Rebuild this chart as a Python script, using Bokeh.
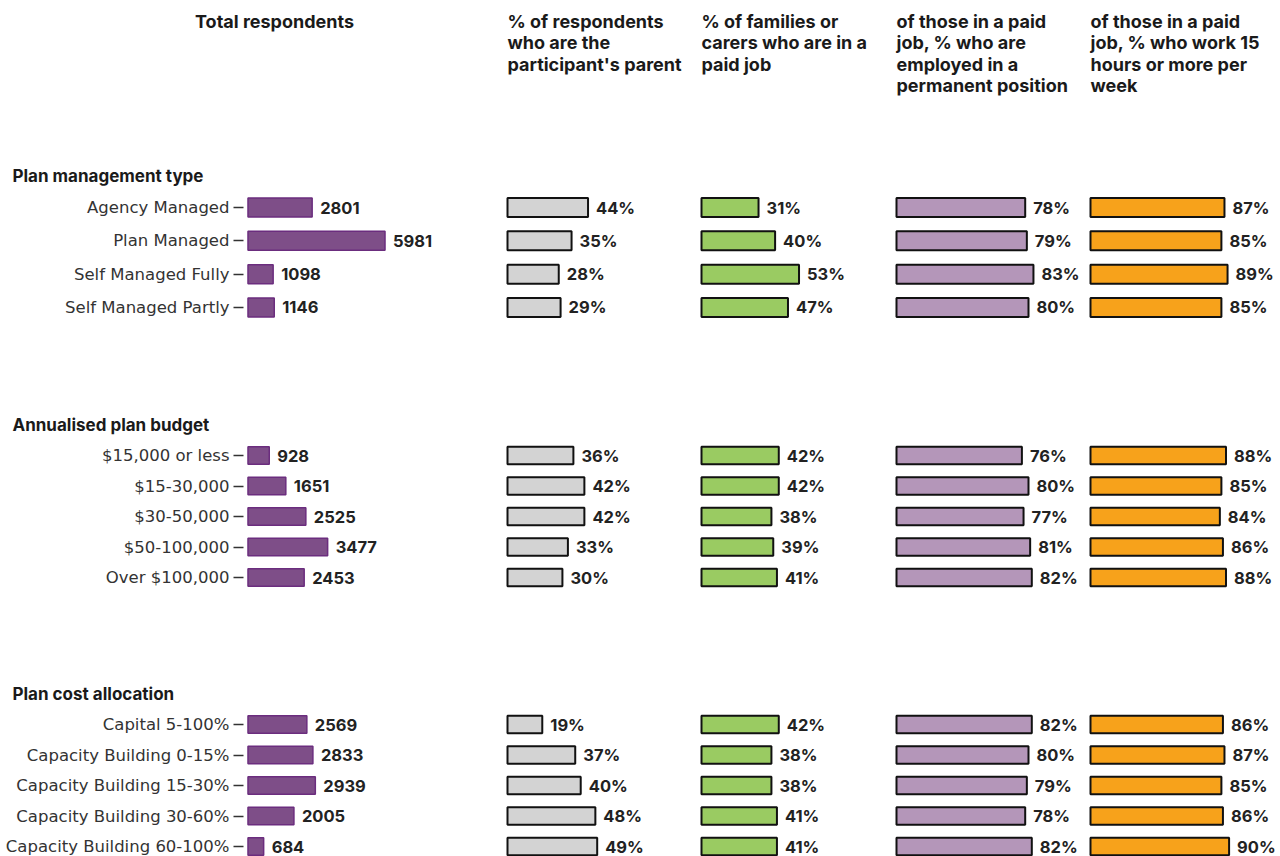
from bokeh.plotting import figure
from bokeh.layouts import column, row
from bokeh.models import Range1d, FixedTicker
from bokeh.core.properties import value
from bokeh.embed import file_html
from bokeh.resources import INLINE

# ---------------- data ----------------
col_headers = [
    "Total respondents",
    "% of respondents\nwho are the\nparticipant's parent",
    "% of families or\ncarers who are in a\npaid job",
    "of those in a paid\njob, % who are\nemployed in a\npermanent position",
    "of those in a paid\njob, % who work 15\nhours or more per\nweek",
]

section_titles = ["Plan management type", "Annualised plan budget", "Plan cost allocation"]

s1_labels = ["Agency Managed", "Plan Managed", "Self Managed Fully", "Self Managed Partly"]
s1_total = [2801, 5981, 1098, 1146]
s1_parent = [44, 35, 28, 29]
s1_paid = [31, 40, 53, 47]
s1_perm = [78, 79, 83, 80]
s1_hours = [87, 85, 89, 85]

s2_labels = ["$15,000 or less", "$15-30,000", "$30-50,000", "$50-100,000", "Over $100,000"]
s2_total = [928, 1651, 2525, 3477, 2453]
s2_parent = [36, 42, 42, 33, 30]
s2_paid = [42, 42, 38, 39, 41]
s2_perm = [76, 80, 77, 81, 82]
s2_hours = [88, 85, 84, 86, 88]

s3_labels = ["Capital 5-100%", "Capacity Building 0-15%", "Capacity Building 15-30%",
             "Capacity Building 30-60%", "Capacity Building 60-100%"]
s3_total = [2569, 2833, 2939, 2005, 684]
s3_parent = [19, 37, 40, 48, 49]
s3_paid = [42, 38, 38, 41, 41]
s3_perm = [82, 80, 79, 78, 82]
s3_hours = [86, 87, 85, 86, 90]

sections = [
    (section_titles[0], s1_labels, [s1_total, s1_parent, s1_paid, s1_perm, s1_hours]),
    (section_titles[1], s2_labels, [s2_total, s2_parent, s2_paid, s2_perm, s2_hours]),
    (section_titles[2], s3_labels, [s3_total, s3_parent, s3_paid, s3_perm, s3_hours]),
]

# ---------------- layout / style ----------------
TOTAL_W = 1280
FIG_W = [503, 194, 195, 194, 194]
BORDER_L = [243, 0, 0, 0, 0]
X_RANGES = [(-196, 11153), (-2.186, 103.8), (-2.174, 103.8), (-2.424, 115.15), (-2.597, 123.38)]
FILLS = ["#7E4E88", "#D3D3D3", "#9ACB62", "#B496B9", "#F7A21B"]
LINES = ["#6B2D7E", "#111111", "#111111", "#111111", "#111111"]
LINE_W = [1.5, 2, 2, 2, 2]
PCT = [False, True, True, True, True]

HEAD_H = 158
HEAD_X = [274, 4, 4, 4, 4]
HEAD_ALIGN = ["center", "left", "left", "left", "left"]

# per section: (strip height, title y in strip, rows fig height, pitch, first row offset)
SEC_GEOM = [(32, 17, 200, 33.33, 17.0),
            (50, 34, 220, 30.5, 15.0),
            (49, 33, 147, 30.5, 15.0)]
BAR_H = 0.57

FONT = "Inter"
TICK_FONT = "DejaVu Sans"


def base_fig(w, h, xr, yr, border_left=0, with_axis=False):
    p = figure(width=w, height=h, x_range=xr, y_range=yr,
               output_backend="svg", toolbar_location=None, tools="",
               x_axis_location=None,
               y_axis_location="left" if with_axis else None,
               min_border=0, outline_line_color=None,
               background_fill_color="white", border_fill_color="white")
    p.min_border_left = border_left
    p.grid.visible = False
    return p


# header row
heads = []
for j, txt in enumerate(col_headers):
    p = base_fig(FIG_W[j], HEAD_H, Range1d(0, FIG_W[j]), Range1d(HEAD_H, 0))
    p.text(x=[HEAD_X[j]], y=[10], text=[txt], text_align=HEAD_ALIGN[j],
           text_baseline="top", text_font=value(FONT), text_font_style="bold",
           text_font_size="18px", text_color="#1a1a1a", text_line_height=1.03)
    heads.append(p)

rows = [row(*heads)]
for (title, labels, series), (sh, sy, h, pitch, off) in zip(sections, SEC_GEOM):
    # section title strip
    strip = base_fig(TOTAL_W, sh, Range1d(0, TOTAL_W), Range1d(sh, 0))
    strip.text(x=[12], y=[sy], text=[title], text_align="left", text_baseline="middle",
               text_font=value(FONT), text_font_style="bold", text_font_size="17px",
               text_color="#1a1a1a")
    rows.append(strip)

    n = len(labels)
    ys = list(range(n))
    top = -off / pitch
    bottom = top + h / pitch
    figs = []
    for j, vals in enumerate(series):
        p = base_fig(FIG_W[j], h, Range1d(*X_RANGES[j]), Range1d(bottom, top),
                     BORDER_L[j], j == 0)
        p.hbar(y=ys, left=0, right=vals, height=BAR_H, fill_color=FILLS[j],
               line_color=LINES[j], line_width=LINE_W[j])
        labs = [f"{v}%" if PCT[j] else f"{v}" for v in vals]
        p.text(x=vals, y=ys, text=labs, x_offset=8, text_align="left",
               text_baseline="middle", text_font=value(FONT), text_font_style="bold",
               text_font_size="16.5px", text_color="#222222")
        if j == 0:
            ax = p.yaxis[0]
            ax.ticker = FixedTicker(ticks=ys)
            ax.major_label_overrides = {i: lab for i, lab in enumerate(labels)}
            ax.axis_line_color = None
            ax.major_tick_in = 0
            ax.major_tick_out = 10
            ax.major_tick_line_color = "#333333"
            ax.major_tick_line_width = 1.5
            ax.minor_tick_line_color = None
            ax.major_label_standoff = 4
            ax.major_label_text_font = TICK_FONT
            ax.major_label_text_font_size = "16.5px"
            ax.major_label_text_color = "#333333"
        figs.append(p)
    rows.append(row(*figs))

layout = column(*rows)
open("out.html", "w").write(file_html(layout, INLINE))
